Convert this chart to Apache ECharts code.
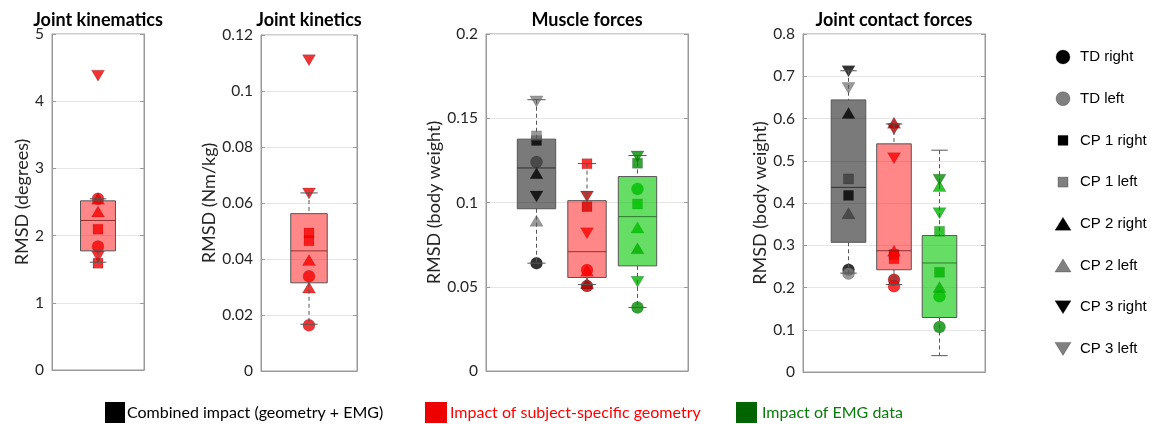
<!DOCTYPE html>
<html><head><meta charset="utf-8">
<script src="https://cdn.jsdelivr.net/npm/echarts@6/dist/echarts.min.js"></script>
<style>html,body{margin:0;padding:0;background:#fff}#c{width:1151px;height:424px}</style>
</head><body><div id="c"></div>
<script>
// ---------- data ----------
const markerNames = ['TD right','TD left','CP 1 right','CP 1 left','CP 2 right','CP 2 left','CP 3 right','CP 3 left'];
const panelTitles = ['Joint kinematics','Joint kinetics','Muscle forces','Joint contact forces'];
const axisNames = ['RMSD (degrees)','RMSD (Nm/kg)','RMSD (body weight)','RMSD (body weight)'];
const yMax = [5, 0.12, 0.2, 0.8];
const yStep = [1, 0.02, 0.05, 0.1];
const bottomLegend = ['Combined impact (geometry + EMG)','Impact of subject-specific geometry','Impact of EMG data'];

// marker values per group, ordered like markerNames
const kinematicsRed = [2.547, 1.837, 2.095, 1.589, 2.55, 2.36, 4.38, 1.688];
const kineticsRed   = [0.0338, 0.0163, 0.0493, 0.0465, 0.0396, 0.0298, 0.111, 0.0634];
const muscleGray    = [0.064, 0.124, 0.1368, 0.1395, 0.1174, 0.0892, 0.1035, 0.160];
const muscleRed     = [0.0505, 0.0599, 0.0975, 0.123, 0.052, 0.0595, 0.1035, 0.0817];
const muscleGreen   = [0.0377, 0.108, 0.1233, 0.0991, 0.0728, 0.0852, 0.1273, 0.0529];
const contactGray   = [0.242, 0.233, 0.418, 0.457, 0.613, 0.376, 0.712, 0.672];
const contactRed    = [0.2185, 0.203, 0.278, 0.268, 0.59, 0.287, 0.575, 0.506];
const contactGreen  = [0.1065, 0.179, 0.236, 0.333, 0.201, 0.44, 0.455, 0.376];

// box statistics: [lower whisker, Q1, median, Q3, upper whisker]
const kinematicsRedBox = [1.604, 1.773, 2.225, 2.517, 2.547];
const kineticsRedBox   = [0.0167, 0.0315, 0.0429, 0.0562, 0.0636];
const muscleGrayBox    = [0.064, 0.0963, 0.1205, 0.1376, 0.161];
const muscleRedBox     = [0.0513, 0.0555, 0.0708, 0.1011, 0.1231];
const muscleGreenBox   = [0.0377, 0.0624, 0.0916, 0.1154, 0.1279];
const contactGrayBox   = [0.234, 0.307, 0.437, 0.644, 0.713];
const contactRedBox    = [0.207, 0.242, 0.287, 0.540, 0.587];
const contactGreenBox  = [0.0387, 0.129, 0.258, 0.323, 0.525];

// ---------- styles / layout ----------
const groupStyles = {
  gray:     {right:'#000000', left:'#808080', fill:'rgba(0,0,0,0.52)', median:'rgba(40,40,40,0.9)'},
  red:      {right:'#b00000', left:'#ff0000', fill:'rgba(255,0,0,0.47)', median:'rgba(120,30,30,0.8)'},
  redPlain: {right:'#ee0000', left:'#ee0000', fill:'rgba(255,0,0,0.47)', median:'rgba(120,30,30,0.8)'},
  green:    {right:'#008c00', left:'#00b400', fill:'rgba(0,200,0,0.6)', median:'rgba(30,100,30,0.8)'}
};
const panels = [
  {grid:{left:52, top:34, width:92, height:336}, xMax:2, nameGap:20,
   groups:[{kind:'redPlain', pos:1, values:kinematicsRed, box:kinematicsRedBox}]},
  {grid:{left:261, top:35, width:96, height:336}, xMax:2, nameGap:43,
   groups:[{kind:'redPlain', pos:1, values:kineticsRed, box:kineticsRedBox}]},
  {grid:{left:486, top:34, width:202, height:337}, xMax:4, nameGap:39,
   groups:[{kind:'gray', pos:1, values:muscleGray, box:muscleGrayBox},
           {kind:'red', pos:2, values:muscleRed, box:muscleRedBox},
           {kind:'green', pos:3, values:muscleGreen, box:muscleGreenBox}]},
  {grid:{left:803, top:34, width:182, height:338}, xMax:4, nameGap:33,
   groups:[{kind:'gray', pos:1, values:contactGray, box:contactGrayBox},
           {kind:'red', pos:2, values:contactRed, box:contactRedBox},
           {kind:'green', pos:3, values:contactGreen, box:contactGreenBox}]}
];
const shapes = ['circle','circle','rect','rect','triangle','triangle','triangle','triangle'];
const sizes  = [12,12,10,10,[13,11],[13,11],[13,11],[13,11]];
const FONT = 'Lato, "Open Sans", sans-serif';
const AX = '#9a9a9a';

const grids = [], xAxes = [], yAxes = [], series = [];
panels.forEach((p, pi) => {
  grids.push(Object.assign({show:true, borderColor:AX, borderWidth:1}, p.grid));
  xAxes.push({type:'value', gridIndex:pi, min:0, max:p.xMax,
    axisLabel:{show:false}, axisTick:{show:false}, splitLine:{show:false},
    axisLine:{show:true, lineStyle:{color:AX}}});
  yAxes.push({type:'value', gridIndex:pi, min:0, max:yMax[pi], interval:yStep[pi],
    name:axisNames[pi], nameLocation:'middle', nameGap:p.nameGap,
    nameTextStyle:{fontFamily:FONT, fontSize:18, color:'#262626'},
    axisLabel:{fontFamily:FONT, fontSize:15.5, color:'#262626', margin:8},
    axisTick:{show:true, inside:true, length:4, lineStyle:{color:AX}},
    axisLine:{show:true, lineStyle:{color:AX}},
    splitLine:{show:true, lineStyle:{color:'#e6e6e6'}}});
});
// mirrored right-hand tick axes (MATLAB box style)
panels.forEach((p, pi) => {
  yAxes.push({type:'value', gridIndex:pi, position:'right', min:0, max:yMax[pi], interval:yStep[pi],
    axisLabel:{show:false}, splitLine:{show:false},
    axisTick:{show:true, inside:true, length:4, lineStyle:{color:AX}},
    axisLine:{show:true, lineStyle:{color:AX}}});
});
panels.forEach((p, pi) => {
  const pts = [];
  p.groups.forEach(g => {
    const st = groupStyles[g.kind];
    g.values.forEach((v, i) => {
      pts.push({value:[g.pos, v], symbol:shapes[i], symbolSize:sizes[i],
        symbolRotate: i >= 6 ? 180 : 0,
        itemStyle:{color: i % 2 === 0 ? st.right : st.left, borderColor:'rgba(0,0,0,0.35)', borderWidth:0.6}});
    });
  });
  series.push({type:'scatter', xAxisIndex:pi, yAxisIndex:pi, z:2, data:pts, silent:true});
  const kinds = p.groups.map(g => g.kind);
  series.push({type:'custom', xAxisIndex:pi, yAxisIndex:pi, z:3, silent:true,
    encode:{x:0, y:[1,2,3,4,5]},
    data:p.groups.map(g => [g.pos].concat(g.box)),
    renderItem:function(params, api){
      const st = groupStyles[kinds[params.dataIndex]];
      const x = api.value(0);
      const wl = api.value(1), q1 = api.value(2), md = api.value(3), q3 = api.value(4), wh = api.value(5);
      const hw = 0.38, cw = 0.18;
      const tl = api.coord([x - hw, q3]), br = api.coord([x + hw, q1]);
      const cx = api.coord([x, 0])[0];
      const yl = api.coord([x, wl])[1], yh = api.coord([x, wh])[1], ym = api.coord([x, md])[1];
      const capL = api.coord([x - cw, 0])[0], capR = api.coord([x + cw, 0])[0];
      const dash = {stroke:'#555', lineWidth:1, lineDash:[4,3]};
      const solid = {stroke:'#555', lineWidth:1};
      return {type:'group', children:[
        {type:'line', shape:{x1:cx, y1:yh, x2:cx, y2:tl[1]}, style:dash},
        {type:'line', shape:{x1:cx, y1:br[1], x2:cx, y2:yl}, style:dash},
        {type:'line', shape:{x1:capL, y1:yh, x2:capR, y2:yh}, style:solid},
        {type:'line', shape:{x1:capL, y1:yl, x2:capR, y2:yl}, style:solid},
        {type:'rect', shape:{x:tl[0], y:tl[1], width:br[0]-tl[0], height:br[1]-tl[1]},
          style:{fill:st.fill, stroke:'#555', lineWidth:1}},
        {type:'line', shape:{x1:tl[0], y1:ym, x2:br[0], y2:ym}, style:{stroke:st.median, lineWidth:1}}
      ]};
    }});
});

// ---------- graphic texts & legends ----------
const graphics = [];
panels.forEach((p, pi) => {
  graphics.push({type:'text', x:p.grid.left + p.grid.width/2, y:20,
    style:{text:panelTitles[pi], align:'center', verticalAlign:'middle',
      fontFamily:FONT, fontWeight:'bold', fontSize:18, fill:'#000'}});
});
const legendColors = ['#000000','#808080'];
markerNames.forEach((n, i) => {
  const y = 57 + i * 41.7, x = 1063;
  const fill = legendColors[i % 2];
  const border = {stroke:'rgba(0,0,0,0.4)', lineWidth:0.6};
  let shape;
  if (i < 2) shape = {type:'circle', shape:{cx:x, cy:y, r:7}, style:Object.assign({fill}, border)};
  else if (i < 4) shape = {type:'rect', shape:{x:x-5, y:y-5, width:10, height:10}, style:Object.assign({fill}, border)};
  else if (i < 6) shape = {type:'polygon', shape:{points:[[x, y-6.5],[x+8, y+6.5],[x-8, y+6.5]]}, style:Object.assign({fill}, border)};
  else shape = {type:'polygon', shape:{points:[[x-8, y-6.5],[x+8, y-6.5],[x, y+6.5]]}, style:Object.assign({fill}, border)};
  graphics.push(shape);
  graphics.push({type:'text', x:1080, y:y, style:{text:n, align:'left', verticalAlign:'middle',
    fontFamily:'"Liberation Sans", Arial, sans-serif', fontSize:15, fill:'#000'}});
});
const bottomBoxes = [{x:105, w:20, c:'#000000', t:'#000000', tx:127},
                     {x:425, w:22, c:'#ee0000', t:'#ff0000', tx:450},
                     {x:736, w:21, c:'#006400', t:'#0a7a0a', tx:762}];
bottomLegend.forEach((t, i) => {
  const b = bottomBoxes[i];
  graphics.push({type:'rect', shape:{x:b.x, y:402, width:b.w, height:21}, style:{fill:b.c}});
  graphics.push({type:'text', x:b.tx, y:412.5, style:{text:t, align:'left', verticalAlign:'middle',
    fontFamily:FONT, fontSize:16, fill:b.t}});
});

const chart = echarts.init(document.getElementById('c'), null, {renderer:'canvas'});
chart.setOption({animation:false, backgroundColor:'#fff',
  grid:grids, xAxis:xAxes, yAxis:yAxes, series:series, graphic:graphics});
</script></body></html>
